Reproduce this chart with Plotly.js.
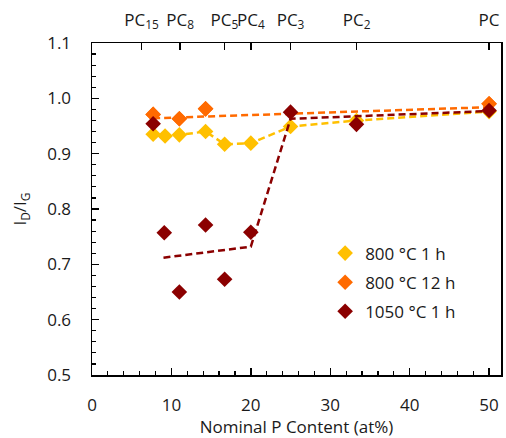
<!DOCTYPE html>
<html>
<head>
<meta charset="utf-8">
<script src="https://cdn.plot.ly/plotly-3.0.1.min.js"></script>
<style>html,body{margin:0;padding:0;background:#fff;}#chart{width:506px;height:438px;}</style>
</head>
<body>
<div id="chart"></div>
<script>
// Series: 800 °C 1 h
const x800_1h = [7.7, 9.2, 11.0, 14.3, 16.7, 20.0, 25.0, 33.3, 50.0];
const y800_1h = [0.935, 0.932, 0.934, 0.940, 0.917, 0.919, 0.949, 0.960, 0.976];
// Series: 800 °C 12 h
const x800_12h = [7.7, 11.0, 14.3, 50.0];
const y800_12h = [0.971, 0.963, 0.981, 0.990];
// Series: 1050 °C 1 h
const x1050_1h = [7.7, 9.1, 11.0, 14.3, 16.7, 20.0, 25.0, 33.3, 50.0];
const y1050_1h = [0.954, 0.757, 0.650, 0.771, 0.673, 0.758, 0.975, 0.953, 0.978];
// Trend lines
const xTrend12h = [7.7, 50.0];
const yTrend12h = [0.964, 0.984];
const xTrend1050 = [9.0, 20.0, 25.0, 50.0];
const yTrend1050 = [0.712, 0.732, 0.963, 0.977];
// Top axis labels
const topTickVals = [6.25, 11.11, 16.67, 20, 25, 33.33, 50];
const topTickText = ['PC<sub>15</sub>', 'PC<sub>8</sub>', 'PC<sub>5</sub>', 'PC<sub>4</sub>', 'PC<sub>3</sub>', 'PC<sub>2</sub>', 'PC'];
const seriesNames = ['800 °C 1 h', '800 °C 12 h', '1050 °C 1 h'];
const colors = ['#FFC000', '#FF6A00', '#8B0000'];

const FONT = 'Open Sans, Noto Sans, sans-serif';
const FS = 17;
const TXT = '#1a1a1a';
const dashStyle = '7px,4px';

const traces = [
  {x: x800_12h.slice(), y: y800_12h, type: 'scatter', mode: 'markers',
   marker: {symbol: 'diamond', size: 12, color: colors[1]}, showlegend: false, hoverinfo: 'skip'},
  {x: xTrend12h, y: yTrend12h, type: 'scatter', mode: 'lines',
   line: {color: colors[1], width: 2.5, dash: dashStyle}, showlegend: false, hoverinfo: 'skip'},
  {x: x800_1h, y: y800_1h, type: 'scatter', mode: 'lines',
   line: {color: colors[0], width: 2.5, dash: dashStyle}, showlegend: false, hoverinfo: 'skip'},
  {x: x800_1h, y: y800_1h, type: 'scatter', mode: 'markers', name: seriesNames[0], legendgroup: 'a',
   marker: {symbol: 'diamond', size: 12, color: colors[0]}},
  {x: x800_12h, y: y800_12h, type: 'scatter', mode: 'markers', name: seriesNames[1], legendgroup: 'b',
   marker: {symbol: 'diamond', size: 12, color: colors[1]}},
  {x: xTrend1050, y: yTrend1050, type: 'scatter', mode: 'lines',
   line: {color: colors[2], width: 2.5, dash: dashStyle}, showlegend: false, hoverinfo: 'skip'},
  {x: x1050_1h, y: y1050_1h, type: 'scatter', mode: 'markers', name: seriesNames[2], legendgroup: 'c',
   marker: {symbol: 'diamond', size: 12, color: colors[2]}},
  {x: [null], y: [null], xaxis: 'x2', yaxis: 'y', type: 'scatter', mode: 'markers', showlegend: false, hoverinfo: 'skip'}
];

const layout = {
  width: 506, height: 438,
  margin: {l: 92, r: 5, t: 43, b: 63, pad: 0},
  paper_bgcolor: '#fff', plot_bgcolor: '#fff',
  font: {family: FONT, size: FS, color: TXT},
  showlegend: true,
  legend: {x: 0.57, y: 0.42, xanchor: 'left', yanchor: 'top', bgcolor: 'rgba(0,0,0,0)',
           traceorder: 'grouped', tracegroupgap: 4, font: {family: FONT, size: FS, color: TXT}, itemwidth: 30},
  xaxis: {
    range: [0, 51.5], showgrid: false, zeroline: false,
    showline: true, linecolor: '#000', linewidth: 1.5, mirror: false,
    ticks: 'inside', ticklen: 7, tickwidth: 1.5, tickcolor: '#000',
    tickvals: [0, 10, 20, 30, 40, 50], ticktext: ['0', '10', '20', '30', '40', '50'],
    minor: {ticks: 'inside', ticklen: 4, tickwidth: 1.2, tickcolor: '#000', dtick: 2, showgrid: false},
    ticklabelstandoff: 14, tickangle: 0,
    tickfont: {family: FONT, size: FS, color: TXT},
    title: {text: 'Nominal P Content (at%)', font: {family: FONT, size: FS, color: TXT}, standoff: 2},
    automargin: false
  },
  xaxis2: {
    overlaying: 'x', side: 'top', matches: 'x', range: [0, 51.5],
    showgrid: false, zeroline: false, showline: true, linecolor: '#000', linewidth: 1.5,
    ticks: 'inside', ticklen: 7, tickwidth: 1.5, tickcolor: '#000',
    tickvals: topTickVals, ticktext: topTickText, ticklabelstandoff: 9, tickangle: 0,
    tickfont: {family: FONT, size: FS, color: TXT}, automargin: false
  },
  yaxis: {
    range: [0.5, 1.1], showgrid: false, zeroline: false,
    showline: true, linecolor: '#000', linewidth: 1.5, mirror: true,
    ticks: 'inside', ticklen: 7, tickwidth: 1.5, tickcolor: '#000',
    tickvals: [0.5, 0.6, 0.7, 0.8, 0.9, 1.0, 1.1], tickformat: '.1f',
    minor: {ticks: 'inside', ticklen: 4, tickwidth: 1.2, tickcolor: '#000', dtick: 0.02, tick0: 0.5, showgrid: false},
    ticklabelstandoff: 16,
    tickfont: {family: FONT, size: FS, color: TXT},
    title: {text: 'I<sub>D</sub>/I<sub>G</sub>', font: {family: FONT, size: FS, color: TXT}, standoff: 16},
    automargin: false
  }
};

Plotly.newPlot('chart', traces, layout, {displayModeBar: false, staticPlot: true});
</script>
</body>
</html>
